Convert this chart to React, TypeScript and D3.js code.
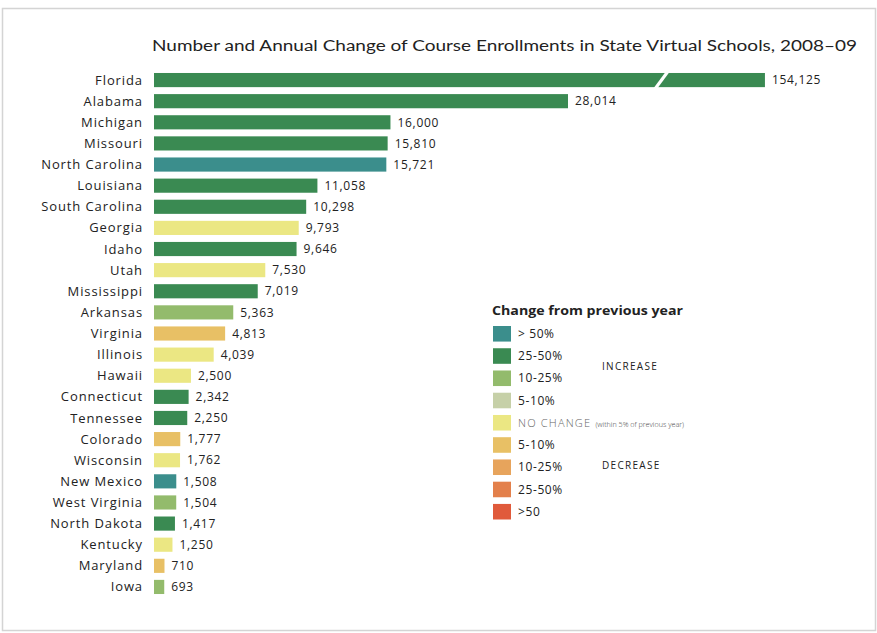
import React from "react";
import * as d3 from "d3";

const states = ["Florida","Alabama","Michigan","Missouri","North Carolina","Louisiana","South Carolina","Georgia","Idaho","Utah","Mississippi","Arkansas","Virginia","Illinois","Hawaii","Connecticut","Tennessee","Colorado","Wisconsin","New Mexico","West Virginia","North Dakota","Kentucky","Maryland","Iowa"];
const enrollments = [154125,28014,16000,15810,15721,11058,10298,9793,9646,7530,7019,5363,4813,4039,2500,2342,2250,1777,1762,1508,1504,1417,1250,710,693];
const changeCategory = ["inc25","inc25","inc25","inc25","inc50","inc25","inc25","none","inc25","none","inc25","inc10","dec5","none","none","inc25","inc25","dec5","none","inc50","inc10","inc25","none","dec5","inc10"];

const legendKeys = ["inc50","inc25","inc10","inc5","none","dec5","dec10","dec25","dec50"];
const legendLabels = ["> 50%","25-50%","10-25%","5-10%","NO CHANGE","5-10%","10-25%","25-50%",">50"];
const legendColors = ["#3b8e8c","#3a8a52","#93bb6c","#c6d0a8","#ebe783","#e8c065","#e7a45c","#e3804b","#e05a3b"];

const breakValue = 41340; // Florida bar is drawn broken at this value
const breakAt = 33800;

const W = 877, H = 633;
const font = "'Open Sans', Lato, sans-serif";
const titleFont = "Lato, 'Open Sans', sans-serif";

export default function App() {
  const x = d3.scaleLinear().domain([0, 28014]).range([154, 568]);
  const y = d3.scaleBand<string>().domain(states).range([69.5, 597.5]).paddingInner(0.33).paddingOuter(0.165);
  const color = d3.scaleOrdinal<string, string>().domain(legendKeys).range(legendColors);
  const fmt = d3.format(",");
  const bw = y.bandwidth();

  const ly = d3.scaleBand<string>().domain(legendKeys.map((k, i) => k + i)).range([326, 519.5]).paddingInner(0.3).paddingOuter(0);

  return (
    <svg width={W} height={H} style={{ position: "absolute", left: 0, top: 0, background: "#fff" }}>
      <rect x={2.5} y={8.5} width={873} height={622} fill="#fff" stroke="#d4d4d4" strokeWidth={1.5} />
      <text x={152} y={51} fontFamily={titleFont} fontSize={15.5} fill="#222" textLength={705} lengthAdjust="spacingAndGlyphs">
        Number and Annual Change of Course Enrollments in State Virtual Schools, 2008–09
      </text>
      {states.map((s, i) => {
        const v = enrollments[i];
        const yy = y(s)!;
        const shown = Math.min(v, breakValue);
        const c = color(changeCategory[i]);
        return (
          <g key={s}>
            <text x={143} y={yy + bw / 2} dy="0.35em" textAnchor="end" fontFamily={font} fontSize={13} letterSpacing={0.9} fill="#222">{s}</text>
            <rect x={x(0)} y={yy} width={x(shown) - x(0)} height={bw} fill={c} />
            {v > breakValue && (
              <polygon
                points={`${x(breakAt)},${yy + bw + 1} ${x(breakAt) + 4},${yy + bw + 1} ${x(breakAt) + 16},${yy - 1} ${x(breakAt) + 12},${yy - 1}`}
                fill="#fff"
              />
            )}
            <text x={x(shown) + 7} y={yy + bw / 2} dy="0.35em" fontFamily={font} fontSize={12} letterSpacing={0.7} fill="#222">{fmt(v)}</text>
          </g>
        );
      })}
      <text x={492} y={315} fontFamily={font} fontSize={13} fontWeight="bold" fill="#222" textLength={191} lengthAdjust="spacingAndGlyphs">Change from previous year</text>
      {legendKeys.map((k, i) => {
        const yy = ly(k + i)!;
        const h = ly.bandwidth();
        return (
          <g key={k + i}>
            <rect x={493} y={yy} width={18} height={h} fill={legendColors[i]} />
            {k === "none" ? (
              <text x={518} y={yy + h / 2} dy="0.35em" fontFamily={font} fontSize={11} letterSpacing={1.2} fill="#666" fontWeight={300}>
                NO CHANGE <tspan fontSize={7.2} letterSpacing={0} fill="#444">(within 5% of previous year)</tspan>
              </text>
            ) : (
              <text x={518} y={yy + h / 2} dy="0.35em" fontFamily={font} fontSize={12} letterSpacing={0.6} fill="#222">{legendLabels[i]}</text>
            )}
          </g>
        );
      })}
      <text x={602} y={366} dy="0.35em" fontFamily={font} fontSize={10} letterSpacing={1.3} fill="#222">INCREASE</text>
      <text x={602} y={465} dy="0.35em" fontFamily={font} fontSize={10} letterSpacing={1.3} fill="#222">DECREASE</text>
    </svg>
  );
}
